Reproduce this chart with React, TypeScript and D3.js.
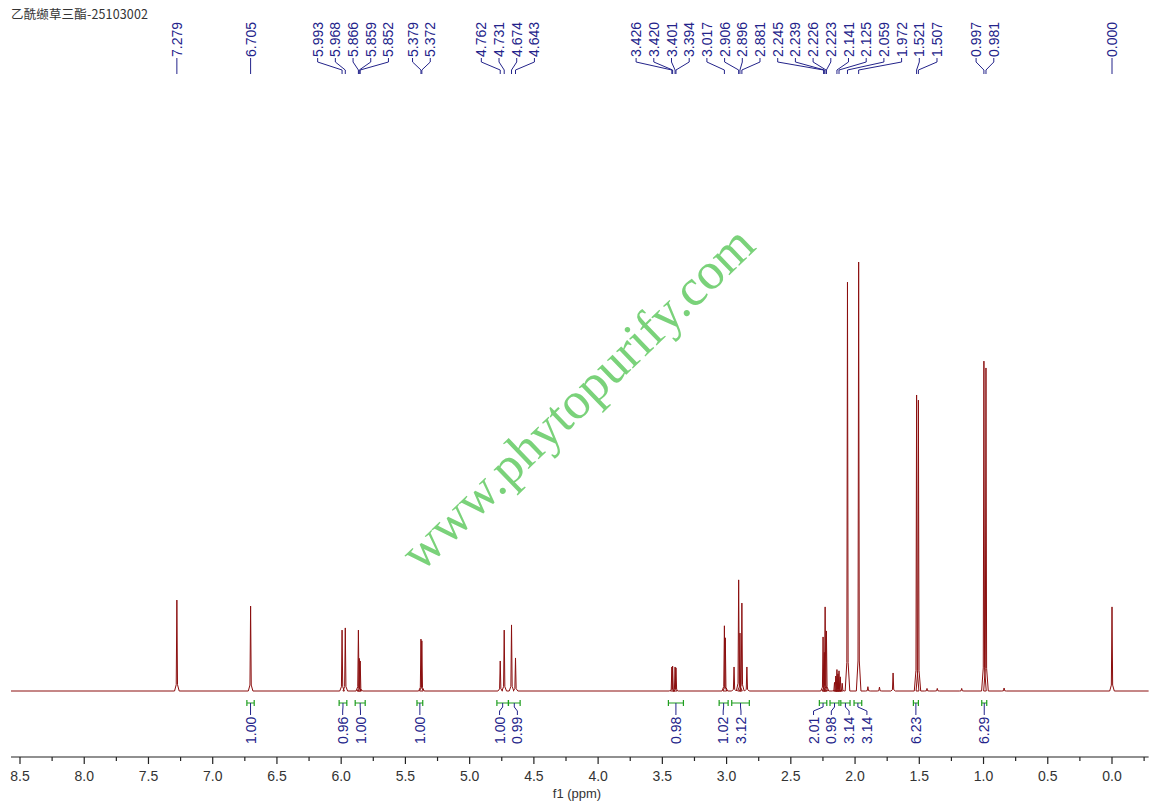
import React from "react";
import * as d3 from "d3";

const W = 1153;
const H = 806;

const title = "乙酰缬草三酯-25103002";
const watermark = "www.phytopurify.com";

// individual lines of the spectrum: shift (ppm) and height (% of tallest line)
const peakPpm = [
  7.279, 6.705, 5.993, 5.968, 5.866, 5.859, 5.852, 5.379, 5.372,
  4.762, 4.731, 4.674, 4.643, 3.426, 3.42, 3.401, 3.394,
  3.017, 3.01, 2.942, 2.906, 2.896, 2.881, 2.842,
  2.249, 2.239, 2.233, 2.223, 2.16, 2.15, 2.141, 2.133, 2.125, 2.115, 2.1,
  2.059, 1.972, 1.9, 1.81, 1.704, 1.521, 1.507, 1.44, 1.36, 1.17,
  0.997, 0.981, 0.84, 0.0,
];
const peakHeight = [
  21.2, 19.8, 14.2, 14.7, 14.2, 7.6, 7.0, 12.1, 11.7,
  7.0, 14.2, 15.4, 7.7, 5.6, 5.8, 5.6, 5.4,
  15.2, 12.4, 5.6, 25.9, 13.5, 20.5, 5.6,
  12.6, 9.0, 19.6, 14.0, 2.0, 3.5, 5.0, 4.0, 4.7, 3.3, 1.8,
  95.3, 100, 1.0, 0.9, 4.2, 69.0, 67.8, 0.6, 0.6, 0.6,
  76.9, 75.3, 0.7, 19.6,
];

// peak labels along the top
const labelPpm = [
  7.279, 6.705, 5.993, 5.968, 5.866, 5.859, 5.852, 5.379, 5.372,
  4.762, 4.731, 4.674, 4.643, 3.426, 3.42, 3.401, 3.394,
  3.017, 2.906, 2.896, 2.881, 2.245, 2.239, 2.226, 2.223, 2.141, 2.125,
  2.059, 1.972, 1.521, 1.507, 0.997, 0.981, 0.0,
];

// integrals
const integralFrom = [6.734, 6.016, 5.891, 5.41, 4.788, 4.698, 3.453, 3.058, 2.96, 2.278, 2.195, 2.111, 2.008, 1.546, 1.014];
const integralTo = [6.677, 5.956, 5.813, 5.365, 4.698, 4.607, 3.336, 2.988, 2.823, 2.22, 2.125, 2.039, 1.948, 1.507, 0.975];
const integralValue = [1.0, 0.96, 1.0, 1.0, 1.0, 0.99, 0.98, 1.02, 3.12, 2.01, 0.98, 3.14, 3.14, 6.23, 6.29];

const majorTicks = d3.range(0, 8.51, 0.5);
const minorTicks = d3.range(-0.25, 8.51, 0.5);

const SPEC = "#8b0f0f";
const NAVY = "#23238a";
const GREEN = "#1f9e1f";

// push overlapping labels apart, centring each crowded group on its anchors
function spread(xs: number[], gap: number): number[] {
  let groups = xs.map((x) => ({ items: [x], c: x }));
  let merged = true;
  while (merged) {
    merged = false;
    for (let i = 0; i < groups.length - 1; i++) {
      const a = groups[i], b = groups[i + 1];
      const aEnd = a.c + ((a.items.length - 1) * gap) / 2;
      const bStart = b.c - ((b.items.length - 1) * gap) / 2;
      if (bStart - aEnd < gap) {
        const items = a.items.concat(b.items);
        groups.splice(i, 2, { items, c: d3.mean(items) as number });
        merged = true;
        break;
      }
    }
  }
  return groups.flatMap((g) => g.items.map((_, k) => g.c + (k - (g.items.length - 1) / 2) * gap));
}

export default function App() {
  const x = d3.scaleLinear().domain([8.5, 0]).range([20, 1112]);
  const y = d3.scaleLinear().domain([0, 100]).range([691, 262]);
  const axisY = 757;
  const xLeft = x(8.57), xRight = x(-0.285);

  // spectrum trace
  const order = d3.range(peakPpm.length).sort((a, b) => peakPpm[b] - peakPpm[a]);
  const pts: [number, number][] = [[8.57, 0]];
  order.forEach((i) => {
    const p = peakPpm[i], h = peakHeight[i];
    pts.push([p + 0.018, 0], [p + 0.005, h * 0.07], [p, h], [p - 0.005, h * 0.07], [p - 0.018, 0]);
  });
  pts.push([-0.285, 0]);
  const line = d3.line<[number, number]>().x((d) => x(d[0])).y((d) => y(d[1]));

  // top labels
  const peakX = labelPpm.map((p) => x(p));
  const labX = spread(peakX, 17.7);

  // integrals
  const intCx = integralFrom.map((f, i) => (x(f) + x(integralTo[i])) / 2);
  const intLx = spread(intCx, 17.8);

  return (
    <svg width={W} height={H} style={{ position: "absolute", left: 0, top: 0, background: "#fff", display: "block" }}>
      <rect width={W} height={H} fill="#fff" />
      <text x={11} y={19} fontFamily="'Noto Sans CJK SC', sans-serif" fontSize={12.5} fill="#333" textLength={137}>
        {title}
      </text>

      {/* peak labels */}
      <g fontFamily="'Liberation Sans', Arial, sans-serif" fontSize={14} fill={NAVY}>
        {labelPpm.map((p, i) => (
          <g key={i}>
            <text transform={`translate(${labX[i]},57) rotate(-90)`} dy="0.36em">
              {p.toFixed(3)}
            </text>
            <path
              d={`M${labX[i]},58V62L${peakX[i]},70V74`}
              fill="none"
              stroke={NAVY}
              strokeWidth={1}
            />
          </g>
        ))}
      </g>

      {/* spectrum */}
      <path d={line(pts) as string} fill="none" stroke={SPEC} strokeWidth={1} strokeLinejoin="round" />

      {/* integrals */}
      <g fontFamily="'Liberation Sans', Arial, sans-serif" fontSize={14}>
        {integralValue.map((v, i) => {
          const x1 = x(integralFrom[i]), x2 = x(integralTo[i]);
          return (
            <g key={i}>
              <path d={`M${x1},703H${x2}M${x1},700V706M${x2},700V706`} stroke={GREEN} strokeWidth={1.2} fill="none" />
              <path d={`M${intCx[i]},703V707L${intLx[i]},711V715`} stroke={NAVY} strokeWidth={1} fill="none" />
              <text transform={`translate(${intLx[i]},744) rotate(-90)`} dy="0.36em" fill={NAVY}>
                {v.toFixed(2)}
              </text>
            </g>
          );
        })}
      </g>

      {/* axis */}
      <g stroke="#222" strokeWidth={1.2}>
        <line x1={xLeft} x2={xRight} y1={axisY} y2={axisY} />
        {majorTicks.map((t) => (
          <line key={"M" + t} x1={x(t)} x2={x(t)} y1={axisY} y2={axisY + 7} />
        ))}
        {minorTicks.map((t) => (
          <line key={"m" + t} x1={x(t)} x2={x(t)} y1={axisY} y2={axisY + 4} />
        ))}
      </g>
      <g fontFamily="'Liberation Sans', Arial, sans-serif" fontSize={14} fill="#333" textAnchor="middle">
        {majorTicks.map((t) => (
          <text key={t} x={x(t)} y={781}>
            {t.toFixed(1)}
          </text>
        ))}
        <text x={577} y={798} fontSize={13}>
          f1 (ppm)
        </text>
      </g>

      {/* watermark */}
      <text
        transform="translate(421,573) rotate(-44)"
        fontFamily="'Liberation Serif', 'Times New Roman', serif"
        fontSize={52}
        fill="#7ad27a"
        textLength={468}
      >
        {watermark}
      </text>
    </svg>
  );
}
